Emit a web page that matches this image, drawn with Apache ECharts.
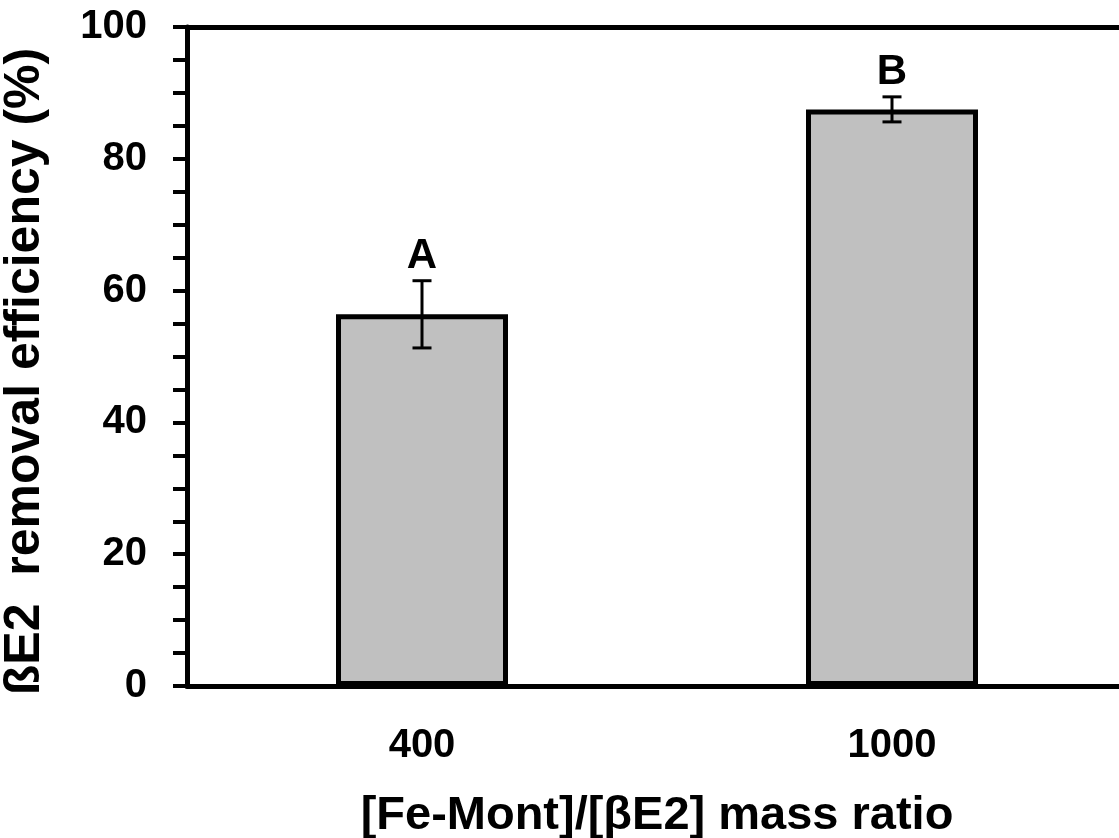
<!DOCTYPE html>
<html>
<head>
<meta charset="utf-8">
<title>βE2 removal efficiency</title>
<script src="https://cdn.jsdelivr.net/npm/echarts@6/dist/echarts.min.js"></script>
<style>
  html, body { margin: 0; padding: 0; background: #fff; }
  #myChart { width: 1119px; height: 838px; }
</style>
</head>
<body>
<div id="myChart"></div>
<script>
// 数据
var categories = ["400", "1000"];
var removal = [56.4, 87.5];
var errors = [5.1, 1.9];
var letters = ["A", "B"];
var yTicks = [0, 20, 40, 60, 80, 100];

var FONT = "'Liberation Sans', Arial, sans-serif";

var myChart = echarts.init(document.getElementById("myChart"));

// 误差线 + 字母
function renderError(params, api) {
  var i = api.value(0);
  var v = api.value(1);
  var e = api.value(2);
  var top = api.coord([i, v + e]);
  var bot = api.coord([i, v - e]);
  var half = 9.5;
  var style = { stroke: "#000", lineWidth: 3 };
  return {
    type: "group",
    children: [
      { type: "line", shape: { x1: top[0], y1: top[1], x2: bot[0], y2: bot[1] }, style: style },
      { type: "line", shape: { x1: top[0] - half, y1: top[1], x2: top[0] + half, y2: top[1] }, style: style },
      { type: "line", shape: { x1: bot[0] - half, y1: bot[1], x2: bot[0] + half, y2: bot[1] }, style: style },
      {
        type: "text",
        style: {
          x: top[0],
          y: top[1] - 3,
          text: letters[params.dataIndex],
          fill: "#000",
          font: "bold 42px " + FONT,
          textAlign: "center",
          textVerticalAlign: "bottom"
        }
      }
    ]
  };
}

myChart.setOption({
  animation: false,
  backgroundColor: "#fff",
  grid: {
    left: 187,
    top: 27,
    right: -8,
    bottom: 152,
    outerBoundsMode: "none",
    containLabel: false
  },
  xAxis: [
    {
      type: "category",
      data: categories,
      name: "[Fe-Mont]/[βE2] mass ratio",
      nameLocation: "middle",
      nameGap: 107,
      nameTextStyle: { fontFamily: FONT, fontWeight: "bold", fontSize: 47, color: "#000" },
      axisLine: { lineStyle: { color: "#000", width: 5 } },
      axisTick: { alignWithLabel: true, length: 12, lineStyle: { color: "#000", width: 4 } },
      axisLabel: { margin: 40, fontFamily: FONT, fontWeight: "bold", fontSize: 40, color: "#000" }
    },
    {
      // 顶部边框线
      type: "category",
      data: categories,
      position: "top",
      axisLine: { lineStyle: { color: "#000", width: 5 } },
      axisTick: { show: false },
      axisLabel: { show: false }
    }
  ],
  yAxis: {
    type: "value",
    min: yTicks[0],
    max: yTicks[yTicks.length - 1],
    interval: 20,
    name: "ßE2  removal efficiency (%)",
    nameLocation: "middle",
    nameGap: 137,
    nameTextStyle: {
      fontFamily: FONT, fontWeight: "bold", fontSize: 50, color: "#000",
      padding: [0, 30, 0, 0]
    },
    axisLine: { show: true, lineStyle: { color: "#000", width: 5 } },
    axisTick: { show: true, length: 14, lineStyle: { color: "#000", width: 4 } },
    minorTick: { show: true, splitNumber: 4, length: 14, lineStyle: { color: "#000", width: 4 } },
    splitLine: { show: false },
    axisLabel: { margin: 40, fontFamily: FONT, fontWeight: "bold", fontSize: 40, color: "#000" }
  },
  series: [
    {
      type: "bar",
      data: removal,
      barWidth: 172,
      itemStyle: { color: "#c0c0c0", borderColor: "#000", borderWidth: 5 }
    },
    {
      type: "custom",
      renderItem: renderError,
      encode: { x: 0, y: 1 },
      data: removal.map(function (v, i) { return [i, v, errors[i]]; }),
      z: 10
    }
  ]
});
</script>
</body>
</html>
